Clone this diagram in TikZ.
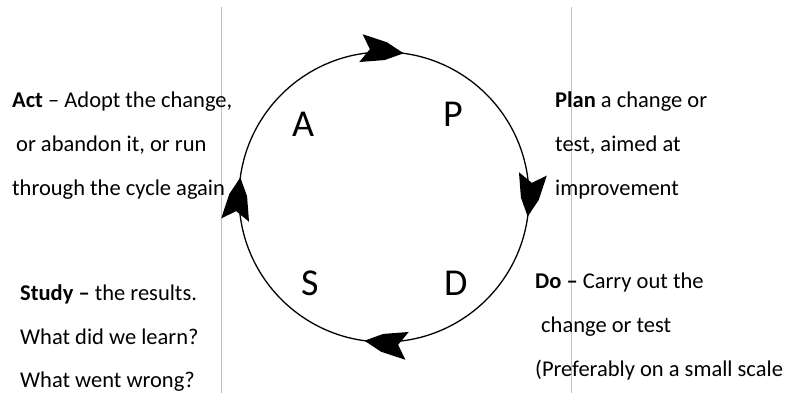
\documentclass[tikz,border=0pt]{standalone}
\usepackage{fontspec}
\setmainfont{Carlito}
\usetikzlibrary{decorations.markings}
\begin{document}
\begin{tikzpicture}[x=1pt,y=1pt,
  txt/.style={anchor=base west, inner sep=0pt, font=\fontsize{22.5}{27}\selectfont},
  big/.style={anchor=base west, inner sep=0pt, font=\fontsize{38}{44}\selectfont},
  rulel/.style={draw=black!25, line width=0.9pt},
  cyc/.style={draw=black, line width=1.3pt, postaction={decorate},
    decoration={markings,
      mark=at position 0.0194 with {\headshape},
      mark=at position 0.2694 with {\headshape},
      mark=at position 0.5194 with {\headshape},
      mark=at position 0.7694 with {\headshape}}}]
\def\headshape{\fill[black] (2,0) -- (-16,9) -- (-41,14) -- (-32,0) -- (-41,-14) -- (-16,-9) -- cycle;}
\useasboundingbox (0,0) rectangle (788,393);
% vertical rules
\coordinate (lt) at (221,386); \coordinate (lb) at (221,0);
\coordinate (rt) at (571,386); \coordinate (rb) at (571,0);
\draw[rulel] (lt) -- (lb);
\draw[rulel] (rt) -- (rb);
% cycle
\coordinate (c) at (384,196);
\coordinate (ctop) at (384,341);
\path[cyc] (ctop) arc[start angle=90, end angle=-270, radius=145];
% big letters
\node[big] (A) at (292,256) {A};
\node[big] (P) at (443,266) {P};
\node[big] (S) at (301,97) {S};
\node[big] (D) at (444,97) {D};
% Act
\node[txt] (act1) at (12,285) {\textbf{Act} – Adopt the change,};
\node[txt] (act2) at (16,241) {or abandon it, or run};
\node[txt] (act3) at (12,197) {through the cycle again};
% Plan
\node[txt] (plan1) at (555,285) {\textbf{Plan} a change or};
\node[txt] (plan2) at (555,241) {test, aimed at};
\node[txt] (plan3) at (555,197) {improvement};
% Study
\node[txt] (st1) at (20,92) {\textbf{Study –} the results.};
\node[txt] (st2) at (20,48) {What did we learn?};
\node[txt] (st3) at (20,5) {What went wrong?};
% Do
\node[txt] (do1) at (535,104) {\textbf{Do –} Carry out the};
\node[txt] (do2) at (541,60) {change or test};
\node[txt] (do3) at (535,16) {(Preferably on a small scale};
\end{tikzpicture}
\end{document}
